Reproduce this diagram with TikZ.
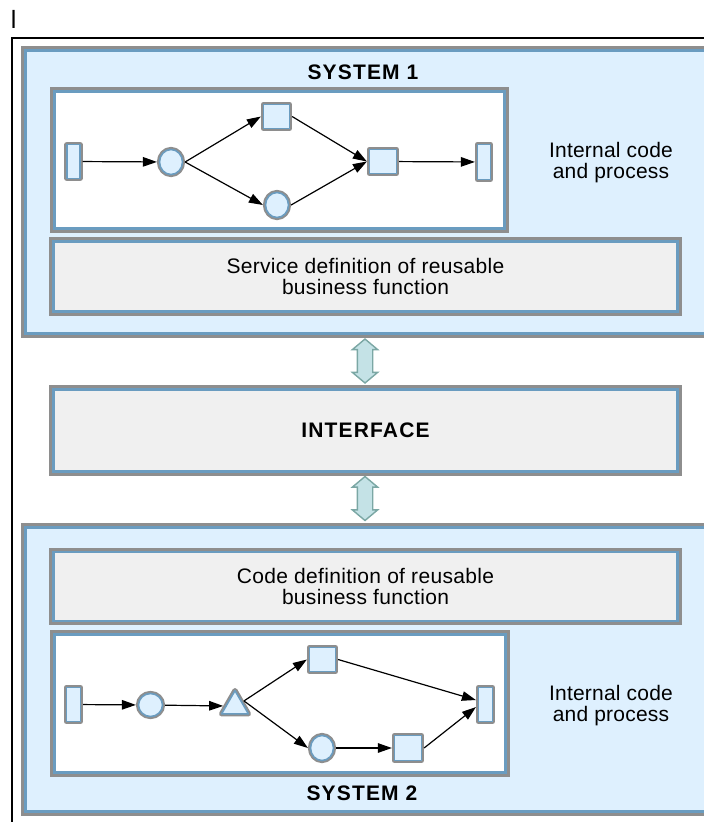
\documentclass[tikz,border=0pt]{standalone}
\usepackage{fontspec}
\setmainfont{Liberation Sans}
\usetikzlibrary{arrows.meta,shapes.geometric,shapes.arrows}

\definecolor{sysfill}{HTML}{DEF0FE}
\definecolor{deffill}{HTML}{F0F0F0}
\definecolor{rimgray}{HTML}{8E8E8E}
\definecolor{rimblue}{HTML}{6A9CC0}
\definecolor{linkfill}{HTML}{C4E2E6}
\definecolor{linkrim}{HTML}{7BA7A4}

\tikzset{
  bigbox/.style={draw=rimblue, line width=2.7pt, preaction={draw=rimgray, line width=8.7pt}, inner sep=0pt},
  sysbox/.style={bigbox, fill=sysfill},
  procbox/.style={bigbox, fill=white},
  defbox/.style={bigbox, fill=deffill, align=center, font=\fontsize{21}{21}\selectfont\addfontfeature{LetterSpace=1.5}},
  elem/.style={draw=rimblue, line width=1.6pt, fill=sysfill, preaction={draw=rimgray, line width=5.2pt}, inner sep=0pt, outer sep=2.6pt, line join=round},
  tallbox/.style={elem, rectangle, minimum width=13pt, minimum height=34pt},
  squarebox/.style={elem, rectangle, minimum width=26pt, minimum height=24pt},
  roundel/.style={elem, ellipse, minimum width=23pt, minimum height=25pt},
  tribox/.style={elem, regular polygon, regular polygon sides=3, minimum size=31pt},
  flow/.style={-{Triangle[length=14pt,width=9.5pt]}, line width=1.2pt},
  link/.style={double arrow, shape border rotate=90, draw=linkrim, fill=linkfill, line width=1.4pt, inner sep=7pt, minimum height=44pt, minimum width=24pt, double arrow head extend=5pt, double arrow tip angle=100},
  note/.style={align=center, inner sep=0pt, font=\fontsize{21}{20.8}\selectfont\addfontfeature{LetterSpace=1}},
  title/.style={inner sep=0pt, font=\fontsize{21}{22}\selectfont\bfseries\addfontfeature{LetterSpace=5.5}}
}

\begin{document}
\begin{tikzpicture}[x=1pt, y=-1pt]
\useasboundingbox (0,0) rectangle (704,822);
% mark and page frame
\node[anchor=base west, inner sep=0pt, font=\fontsize{25}{25}\selectfont] (mark) at (10.6,28) {l};
\draw[line width=1.3pt] (12,38) rectangle (760,860);

% System 1
\node[sysbox, minimum width=694.6pt, minimum height=283.2pt] (sys1) at (372.7,192) {};
\node[title] (sys1title) at (363,72) {SYSTEM 1};
\node[procbox, minimum width=450.2pt, minimum height=137.2pt] (proc1) at (279.5,160) {};
\node[note] (note1) at (611,162.3) {Internal code\\and process};
\node[defbox, minimum width=624.2pt, minimum height=70.2pt] (serv) at (365.5,276.5) {Service definition of reusable\\business function};

% process of system 1
\node[tallbox] (r1a) at (73.5,161.5) {};
\node[roundel] (c1a) at (171,162) {};
\node[squarebox] (s1a) at (276.5,116.5) {};
\node[roundel] (c1b) at (277,205) {};
\node[squarebox, minimum width=27pt] (s1b) at (383,161.5) {};
\node[tallbox, minimum height=35pt] (r1b) at (484,162) {};
\draw[flow] (r1a) -- (c1a);
\draw[flow] (c1a.east) -- (s1a.west);
\draw[flow] (c1a.east) -- (c1b.west);
\draw[flow] (s1a.east) -- (s1b.west);
\draw[flow] (c1b.east) -- (s1b.west);
\draw[flow] (s1b) -- (r1b);

% Interface
\node[link] (link1) at (365,361) {};
\node[defbox, minimum width=624.2pt, minimum height=82.2pt, title] (iface) at (365.5,430.5) {INTERFACE};
\node[link] (link2) at (365,498.5) {};

% System 2
\node[sysbox, minimum width=694.6pt, minimum height=284.2pt] (sys2) at (372.7,669.5) {};
\node[defbox, minimum width=624.2pt, minimum height=69.2pt] (code) at (365.5,586.5) {Code definition of reusable\\business function};
\node[procbox, minimum width=451.2pt, minimum height=138.2pt] (proc2) at (280,703.5) {};
\node[note] (note2) at (611,705.7) {Internal code\\and process};
\node[title] (sys2title) at (362,793.7) {SYSTEM 2};

% process of system 2
\node[tallbox, minimum width=14pt] (r2a) at (73.5,704.5) {};
\node[roundel, minimum width=24pt, minimum height=23pt] (c2a) at (150.5,705) {};
\node[tribox] (t2) at (235,706.1) {};
\node[squarebox] (s2a) at (322.5,659.5) {};
\node[roundel] (c2b) at (322,748) {};
\node[squarebox, minimum width=27pt, minimum height=25pt] (s2b) at (408,748) {};
\node[tallbox, minimum width=14pt] (r2b) at (485.5,704.5) {};
\draw[flow] (r2a) -- (c2a);
\draw[flow] (c2a) -- (t2);
\draw[flow] (t2.side 3) -- (s2a.west);
\draw[flow] (t2.side 3) -- (c2b.west);
\draw[flow] (s2a.east) -- (r2b.155);
\draw[flow] (c2b) -- (s2b);
\draw[flow] (s2b.east) -- (r2b.195);
\end{tikzpicture}
\end{document}
